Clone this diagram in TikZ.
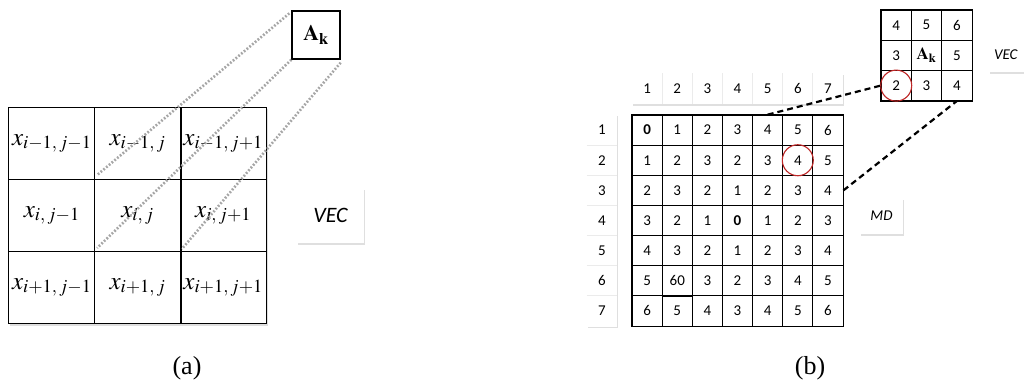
\documentclass[tikz,border=0pt]{standalone}
\usepackage{mathptmx}
\usepackage{fontspec}
\setmainfont{Liberation Serif}
\newfontfamily\carl{Carlito}
\usetikzlibrary{shadows}
\tikzset{
  acell/.style={draw=black, line width=1pt, minimum width=85.7pt, minimum height=72pt, inner sep=0pt,
    font=\fontsize{25}{27}\selectfont},
  bcell/.style={draw=black, line width=0.8pt, minimum width=30.14pt, minimum height=30.14pt, inner sep=0pt,
    font=\carl\fontsize{15}{17}\selectfont},
  scell/.style={draw=black, line width=0.8pt, minimum width=30.33pt, minimum height=30pt, inner sep=0pt,
    font=\carl\fontsize{15}{17}\selectfont},
  hcell/.style={minimum width=30.14pt, minimum height=30.14pt, inner sep=0pt,
    font=\carl\fontsize{15}{17}\selectfont},
  shbox/.style={fill=white, drop shadow={opacity=0.25, shadow xshift=0.6pt, shadow yshift=-1.6pt}},
  dotline/.style={draw=black!35, line width=2.6pt, dash pattern=on 1.8pt off 1.8pt},
  dashline/.style={draw=black, line width=2.2pt, dash pattern=on 6pt off 4pt},
  redcirc/.style={draw=red!70!black!85, line width=1.1pt, circle, minimum size=31pt, inner sep=0pt},
  lab/.style={font=\fontsize{26}{28}\selectfont}
}
\begin{document}
\begin{tikzpicture}[x=1pt,y=-1pt]
\useasboundingbox (0,0) rectangle (1024,383);
\fill[white] (0,0) rectangle (1024,383);

% ---------- panel (a) ----------
\fill[black!25, opacity=0.5] (10,109) rectangle (268,326);
\node[acell, fill=white] (a11) at (51.8,143.5) {$x_{i-1,\,j-1}$};
\node[acell, fill=white] (a12) at (137.5,143.5) {$x_{i-1,\,j}$};
\node[acell, fill=white] (a13) at (223.2,143.5) {$x_{i-1,\,j+1}$};
\node[acell, fill=white] (a21) at (51.8,215.5) {$x_{i,\,j-1}$};
\node[acell, fill=white] (a22) at (137.5,215.5) {$x_{i,\,j}$};
\node[acell, fill=white] (a23) at (223.2,215.5) {$x_{i,\,j+1}$};
\node[acell, fill=white] (a31) at (51.8,287.5) {$x_{i+1,\,j-1}$};
\node[acell, fill=white] (a32) at (137.5,287.5) {$x_{i+1,\,j}$};
\node[acell, fill=white] (a33) at (223.2,287.5) {$x_{i+1,\,j+1}$};
\draw[line width=1.6pt] (a12.north east) -- (a32.south east);

\node[draw=black, line width=1.3pt, fill=white, minimum width=48pt, minimum height=48pt, inner sep=0pt,
  drop shadow={opacity=0.25, shadow xshift=0.6pt, shadow yshift=-1.2pt},
  font=\fontsize{22}{24}\selectfont] (ak) at (316,35) {$\mathbf{A}_{\mathbf{k}}$};

\draw[dotline] (ak.north west) ++(-2,3) -- ([shift={(3,-5)}]a12.south west);
\draw[dotline] (ak.south west) -- ([shift={(3,-4)}]a22.south west);
\draw[dotline] (ak.south east) ++(0,3) -- ([shift={(2,-3)}]a23.south west);

\node[shbox, minimum width=67pt, minimum height=55pt, inner sep=0pt,
  font=\carl\itshape\fontsize{22}{24}\selectfont] (vecA) at (330.5,215.5) {VEC};

\node[lab] (labA) at (187,368) {(a)};

% ---------- panel (b) ----------
% header row
\node[shbox, minimum width=211pt, minimum height=31pt, inner sep=0pt] (hrow) at (737.5,88.5) {};
\foreach \c in {1,...,7}{
  \node[hcell] (h-\c) at ({647.1+(\c-1)*30.14},88.5) {\c};
}
\foreach \c in {2,...,7}{
  \draw[black!8, line width=0.8pt] (h-\c.north west) -- (h-\c.south west);
}
% left column
\node[shbox, minimum width=30pt, minimum height=212pt, inner sep=0pt] (lcol) at (602,220.5) {};
\foreach \r in {1,...,7}{
  \node[hcell] (l-\r) at (602,{130.1+(\r-1)*30.14}) {\r};
}
\foreach \r in {2,...,7}{
  \draw[black!8, line width=0.8pt] (l-\r.north west) -- (l-\r.north east);
}
% main grid
\foreach \row [count=\r] in {{\textbf{0},1,2,3,4,5,6},{1,2,3,2,3,4,5},{2,3,2,1,2,3,4},{3,2,1,\textbf{0},1,2,3},{4,3,2,1,2,3,4},{5,60,3,2,3,4,5},{6,5,4,3,4,5,6}}{
  \foreach \v [count=\c] in \row {
    \node[bcell] (m-\r-\c) at ({647.1+(\c-1)*30.14},{130.1+(\r-1)*30.14}) {\v};
  }
}
\draw[line width=1.3pt] (m-1-1.north west) rectangle (m-7-7.south east);
\draw[line width=1.2pt] (m-6-2.south west) -- (m-6-2.south east) -- (m-6-2.north east);
\node[redcirc] (rc1) at (m-2-6) {};

% small grid
\foreach \row [count=\r] in {{4,5,6},{3,{\fontsize{17}{19}\selectfont$\mathbf{A}_{\mathbf{k}}$},5},{2,3,4}}{
  \foreach \v [count=\c] in \row {
    \node[scell] (s-\r-\c) at ({896.2+(\c-1)*30.33},{25.2+(\r-1)*30.2}) {\v};
  }
}
\draw[line width=1.2pt] (s-1-1.north west) rectangle (s-3-3.south east);
\node[redcirc] (rc2) at (s-3-1) {};

% dashed connectors
\draw[dashline] (m-1-5.north) -- (s-3-1.west);
\draw[dashline] (m-3-7.east) -- (s-3-3.south);

\node[shbox, minimum width=43pt, minimum height=36pt, inner sep=0pt,
  font=\carl\itshape\fontsize{15}{17}\selectfont] (md) at (881.5,216) {MD};
\node[shbox, minimum width=46pt, minimum height=34pt, inner sep=0pt, text width=36pt, align=left,
  font=\carl\itshape\fontsize{15}{17}\selectfont] (vecB) at (1012,55) {VEC};

\node[lab] (labB) at (810,368) {(b)};
\end{tikzpicture}
\end{document}
